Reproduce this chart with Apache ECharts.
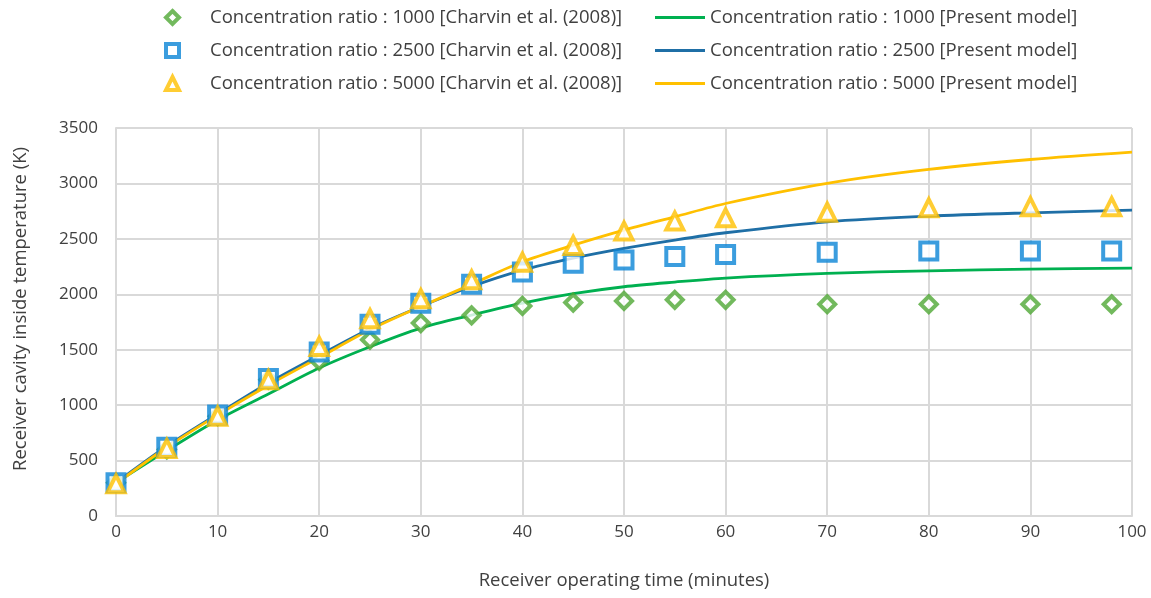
<!DOCTYPE html>
<html><head><meta charset="utf-8">
<script src="https://cdn.jsdelivr.net/npm/echarts@6/dist/echarts.min.js"></script>
<style>html,body{margin:0;padding:0;background:#fff}#c{width:1151px;height:598px}</style>
</head><body><div id="c"></div>
<script>
const expTimes = [0,5,10,15,20,25,30,35,40,45,50,55,60,70,80,90,98];
const exp1000 = [300,600,900,1230,1400,1590,1740,1810,1895,1925,1940,1950,1950,1910,1910,1910,1910];
const exp2500 = [300,620,910,1240,1480,1730,1920,2090,2200,2280,2310,2340,2360,2380,2390,2390,2390];
const exp5000 = [290,610,900,1230,1530,1780,1960,2130,2290,2440,2570,2660,2690,2740,2780,2790,2790];

const modelTimes = [0,5,10,15,20,25,30,35,40,45,50,55,60,70,80,90,100];
const model1000 = [300,590,866,1100,1335,1527,1695,1812,1920,2005,2068,2110,2146,2188,2212,2227,2236];
const model2500 = [300,630,920,1200,1450,1690,1890,2070,2218,2326,2414,2489,2555,2654,2705,2735,2759];
const model5000 = [290,620,910,1180,1430,1680,1890,2090,2293,2443,2579,2699,2819,3000,3126,3216,3282];

const xTicks = [0,10,20,30,40,50,60,70,80,90,100];
const yTicks = [0,500,1000,1500,2000,2500,3000,3500];

const names = {
  e1: 'Concentration ratio : 1000 [Charvin et al. (2008)]',
  e2: 'Concentration ratio : 2500 [Charvin et al. (2008)]',
  e3: 'Concentration ratio : 5000 [Charvin et al. (2008)]',
  m1: 'Concentration ratio : 1000 [Present model]',
  m2: 'Concentration ratio : 2500 [Present model]',
  m3: 'Concentration ratio : 5000 [Present model]'
};
const zip = (a, b) => a.map((t, i) => [t, b[i]]);
const FONT = 'Open Sans';
const FS = 17;
const FSL = 18.5;
const textColor = '#404040';

const scatter = (name, data, symbol, color, size) => ({
  name, type: 'scatter', data, symbol, symbolSize: size, z: 5,
  itemStyle: { color: '#fff', borderColor: color, borderWidth: 4 }
});
const line = (name, data, color) => ({
  name, type: 'line', data, smooth: 0.3, showSymbol: false, symbol: 'none', z: 3,
  lineStyle: { color, width: 2.8 }, itemStyle: { color }
});

const legendText = { fontFamily: FONT, fontSize: FSL, color: textColor };
const option = {
  animation: false,
  backgroundColor: '#fff',
  legend: [
    { left: 159, top: 3, orient: 'vertical', itemGap: 14, itemWidth: 13, itemHeight: 13,
      itemStyle: { borderWidth: 4 },
      textStyle: Object.assign({ padding: [0, 0, 0, 26] }, legendText),
      data: [names.e1, names.e2, names.e3] },
    { left: 650, top: 3, orient: 'vertical', itemGap: 14, itemWidth: 50, itemHeight: 3,
      icon: 'rect',
      textStyle: legendText, data: [names.m1, names.m2, names.m3] }
  ],
  grid: { left: 116, right: 19, top: 128, bottom: 82, containLabel: false },
  xAxis: {
    type: 'value', min: 0, max: 100, interval: 10,
    name: 'Receiver operating time (minutes)', nameLocation: 'middle', nameGap: 55,
    nameTextStyle: { fontFamily: FONT, fontSize: FSL, color: textColor },
    axisLine: { show: true, lineStyle: { color: '#d9d9d9', width: 2 } },
    axisTick: { show: false },
    axisLabel: { fontFamily: FONT, fontSize: FS, color: textColor, margin: 8 },
    splitLine: { show: true, lineStyle: { color: '#d9d9d9', width: 2 } }
  },
  yAxis: {
    type: 'value', min: 0, max: 3500, interval: 500,
    name: 'Receiver cavity inside temperature (K)', nameLocation: 'middle', nameGap: 86,
    nameTextStyle: { fontFamily: FONT, fontSize: FSL, color: textColor, padding: [0, 0, 0, 26] },
    axisLine: { show: true, lineStyle: { color: '#d9d9d9', width: 2 } },
    axisTick: { show: false },
    axisLabel: { fontFamily: FONT, fontSize: FS, color: textColor, margin: 18,
      formatter: v => String(v) },
    splitLine: { show: true, lineStyle: { color: '#d9d9d9', width: 2 } }
  },
  series: [
    line(names.m1, zip(modelTimes, model1000), '#00b050'),
    line(names.m2, zip(modelTimes, model2500), '#1f6fa6'),
    line(names.m3, zip(modelTimes, model5000), '#ffc000'),
    scatter(names.e1, zip(expTimes, exp1000), 'diamond', '#4fa835', 16),
    scatter(names.e2, zip(expTimes, exp2500), 'rect', '#0a84d6', 17),
    scatter(names.e3, zip(expTimes, exp5000), 'triangle', '#ffc000', 17)
  ]
};
echarts.init(document.getElementById('c'), null, { renderer: 'canvas' }).setOption(option);
</script></body></html>
